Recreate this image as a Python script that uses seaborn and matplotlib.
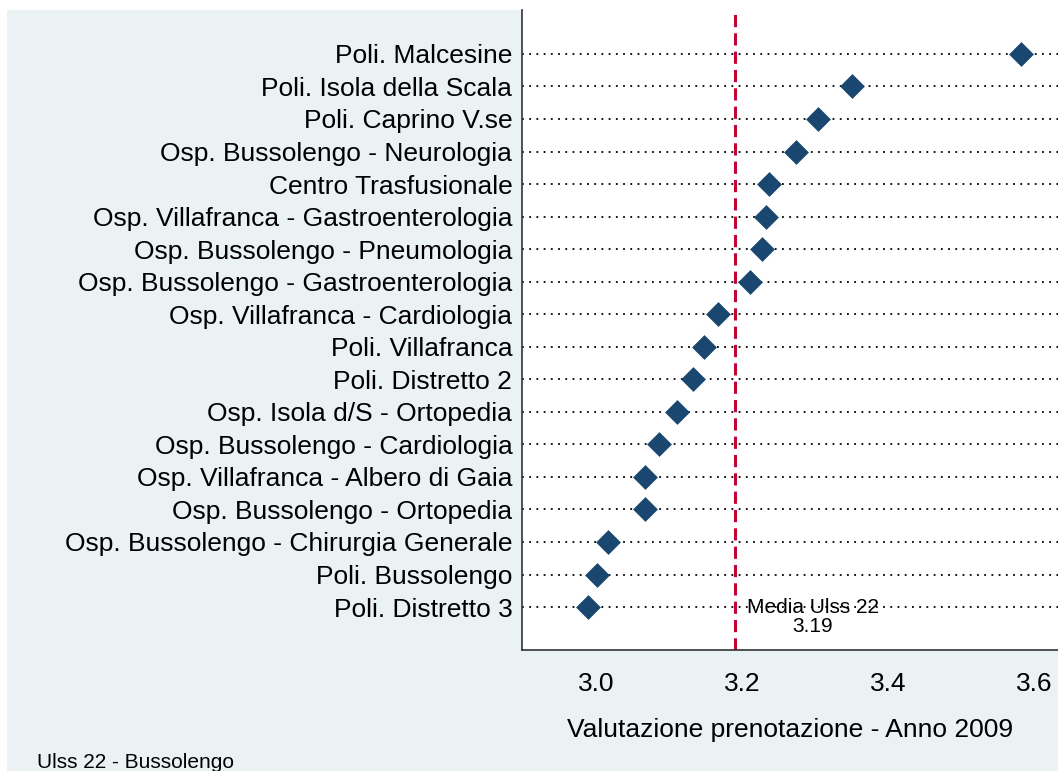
import matplotlib
matplotlib.use("Agg")
import matplotlib.pyplot as plt
from matplotlib.patches import Rectangle
import seaborn as sns
import pandas as pd

servizi = [
    "Poli. Malcesine",
    "Poli. Isola della Scala",
    "Poli. Caprino V.se",
    "Osp. Bussolengo - Neurologia",
    "Centro Trasfusionale",
    "Osp. Villafranca - Gastroenterologia",
    "Osp. Bussolengo - Pneumologia",
    "Osp. Bussolengo - Gastroenterologia",
    "Osp. Villafranca - Cardiologia",
    "Poli. Villafranca",
    "Poli. Distretto 2",
    "Osp. Isola d/S - Ortopedia",
    "Osp. Bussolengo - Cardiologia",
    "Osp. Villafranca - Albero di Gaia",
    "Osp. Bussolengo - Ortopedia",
    "Osp. Bussolengo - Chirurgia Generale",
    "Poli. Bussolengo",
    "Poli. Distretto 3",
]
valutazione = [3.582, 3.351, 3.304, 3.274, 3.237, 3.232, 3.227, 3.211, 3.167,
               3.148, 3.133, 3.110, 3.086, 3.067, 3.066, 3.016, 3.001, 2.989]
media = 3.19
xticks = [3.0, 3.2, 3.4, 3.6]

BG = "#EAF2F3"
NAVY = "#1A476F"
RED = "#C10534"

df = pd.DataFrame({"servizio": servizi, "valutazione": valutazione})

sns.set_style("white")
plt.rcParams["font.family"] = ["Liberation Sans", "DejaVu Sans"]

fig = plt.figure(figsize=(10.58, 7.71), dpi=100, facecolor="white")
# sfondo del grafico (bordo bianco sottile in alto e a sinistra)
fig.patches.append(Rectangle((7 / 1058, 0), 1 - 7 / 1058, 1 - 10 / 771,
                             transform=fig.transFigure, facecolor=BG,
                             edgecolor="none", zorder=-10))

ax = fig.add_axes([522 / 1058, 1 - 650 / 771, 1 - 522 / 1058, 640 / 771])
ax.set_facecolor("white")

sns.scatterplot(data=df, x="valutazione", y="servizio", marker="D", s=160,
                color=NAVY, edgecolor=NAVY, linewidth=0, zorder=3, ax=ax)

ax.axvline(media, color=RED, lw=2.2, linestyle=(0, (4, 2)), zorder=2)
ax.text(3.297, 17.32, f"Media Ulss 22\n{media:.2f}", ha="center", va="center",
        fontsize=15, color="black", linespacing=1.0, zorder=4)

ax.set_xlim(2.898, 3.633)
ax.set_ylim(18.32, -1.35)
ax.set_xticks(xticks)
ax.set_xticklabels([f"{t:.1f}" for t in xticks], fontsize=19)
ax.tick_params(axis="x", direction="out", length=8, width=1, pad=8,
               color="#333333", labelcolor="black")
ax.tick_params(axis="y", length=0, pad=7, labelsize=19, labelcolor="black")

ax.yaxis.grid(True, color="black", linestyle=(0, (1, 3)), linewidth=1.3)
ax.xaxis.grid(False)
ax.set_axisbelow(True)

for side in ["top", "right"]:
    ax.spines[side].set_visible(False)
for side in ["left", "bottom"]:
    ax.spines[side].set_color("#333333")
    ax.spines[side].set_linewidth(1.2)

ax.set_ylabel("")
ax.set_xlabel("Valutazione prenotazione - Anno 2009", fontsize=19,
              labelpad=16, color="black")

fig.text(37 / 1058, 1 - 762 / 771, "Ulss 22 - Bussolengo", fontsize=15,
         va="center", ha="left", color="black")

fig.savefig("out.png", dpi=100, facecolor="white")
